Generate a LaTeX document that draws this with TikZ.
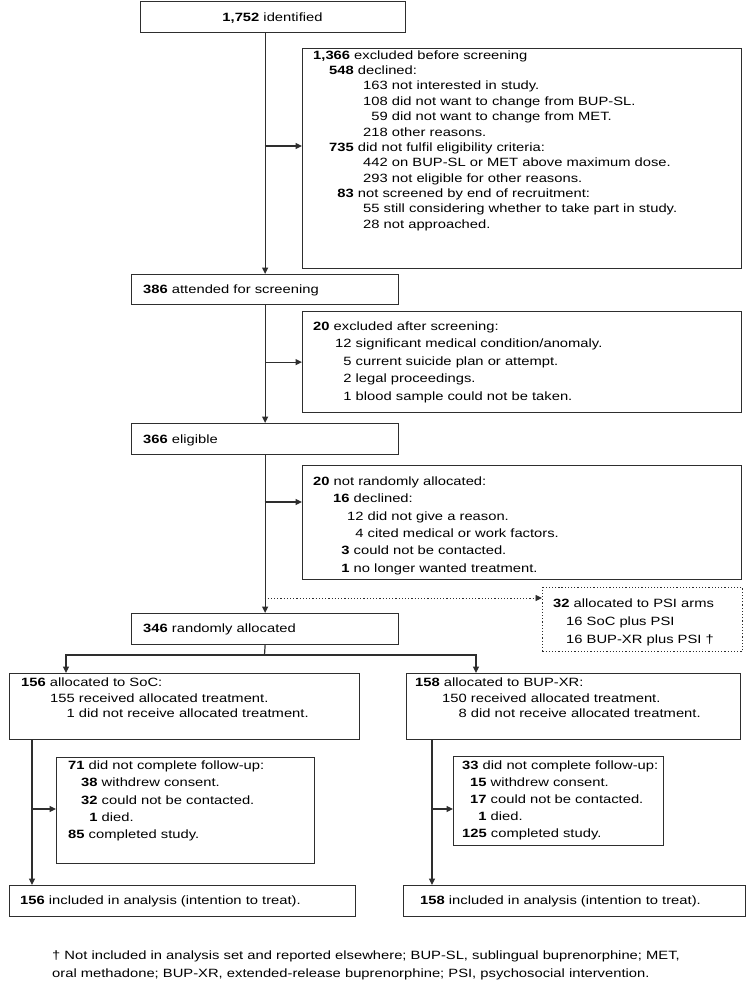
\documentclass[tikz,border=0pt]{standalone}
\usepackage{fontspec}
\setmainfont{Liberation Sans}[FakeStretch=1.23]
\usetikzlibrary{arrows.meta}
\definecolor{lnc}{HTML}{2E2E2E}
\newcommand{\fst}{\rule{0pt}{9bp}}
\begin{document}
\begin{tikzpicture}[x=1bp,y=-1bp,
 bx/.style={draw=lnc, line width=1.2bp, inner sep=0pt, anchor=north west},
 tx/.style={inner sep=0pt, anchor=north west, align=left, text=black},
 arr/.style={draw=lnc, line width=1.2bp, -{Triangle[length=6.5bp,width=6bp]}},
 plain/.style={draw=lnc, line width=1.2bp},
 fsz/.style={font=\fontsize{12bp}{#1}\selectfont}]
\useasboundingbox (0,0) rectangle (748,983);
% boxes
\node[bx, minimum width=265bp, minimum height=31bp] (A) at (140,1) {};
\node[bx, minimum width=439bp, minimum height=220bp] (B) at (302,48) {};
\node[bx, minimum width=267bp, minimum height=30bp] (C) at (131,274) {};
\node[bx, minimum width=439bp, minimum height=101bp] (D) at (302,311) {};
\node[bx, minimum width=267bp, minimum height=31bp] (E) at (131,423) {};
\node[bx, minimum width=439bp, minimum height=114bp] (F) at (302,465) {};
\node[bx, dotted, line width=0.9bp, minimum width=200bp, minimum height=64bp] (P) at (542,587) {};
\node[bx, minimum width=267bp, minimum height=31bp] (G) at (131,613) {};
\node[bx, minimum width=350bp, minimum height=66bp] (H) at (9,673) {};
\node[bx, minimum width=334bp, minimum height=66bp] (I) at (406,673) {};
\node[bx, minimum width=258bp, minimum height=106bp] (J) at (56,757) {};
\node[bx, minimum width=210bp, minimum height=89bp] (K) at (453,756) {};
\node[bx, minimum width=346bp, minimum height=31bp] (L) at (9,885) {};
\node[bx, minimum width=342bp, minimum height=31bp] (M) at (403,885) {};
% texts
\node[tx, fsz=14bp, anchor=base] (At) at (272.5,21) {\textbf{1,752} identified};
\node[tx, fsz=15.36bp] (Bt) at (313,50) {\fst\textbf{1,366} excluded before screening\\
\hspace*{16bp}\textbf{548} declined:\\
\hspace*{50bp}163 not interested in study.\\
\hspace*{50bp}108 did not want to change from BUP-SL.\\
\hspace*{50bp}\phantom{1}59 did not want to change from MET.\\
\hspace*{50bp}218 other reasons.\\
\hspace*{16bp}\textbf{735} did not fulfil eligibility criteria:\\
\hspace*{50bp}442 on BUP-SL or MET above maximum dose.\\
\hspace*{50bp}293 not eligible for other reasons.\\
\hspace*{16bp}\textbf{\phantom{7}83} not screened by end of recruitment:\\
\hspace*{50bp}55 still considering whether to take part in study.\\
\hspace*{50bp}28 not approached.};
\node[tx, fsz=14bp, anchor=base west] (Ct) at (143,293) {\textbf{386} attended for screening};
\node[tx, fsz=17.5bp] (Dt) at (313,321) {\fst\textbf{20} excluded after screening:\\
\hspace*{22bp}12 significant medical condition/anomaly.\\
\hspace*{22bp}\phantom{1}5 current suicide plan or attempt.\\
\hspace*{22bp}\phantom{1}2 legal proceedings.\\
\hspace*{22bp}\phantom{1}1 blood sample could not be taken.};
\node[tx, fsz=14bp, anchor=base west] (Et) at (143,443) {\textbf{366} eligible};
\node[tx, fsz=17.4bp] (Ft) at (313,476) {\fst\textbf{20} not randomly allocated:\\
\hspace*{20bp}\textbf{16} declined:\\
\hspace*{34bp}12 did not give a reason.\\
\hspace*{34bp}\phantom{1}4 cited medical or work factors.\\
\hspace*{20bp}\textbf{\phantom{1}3} could not be contacted.\\
\hspace*{20bp}\textbf{\phantom{1}1} no longer wanted treatment.};
\node[tx, fsz=18bp] (Pt) at (553,598) {\fst\textbf{32} allocated to PSI arms\\
\hspace*{13bp}16 SoC plus PSI\\
\hspace*{13bp}16 BUP-XR plus PSI †};
\node[tx, fsz=14bp, anchor=base west] (Gt) at (143,632.5) {\textbf{346} randomly allocated};
\node[tx, fsz=15.8bp] (Ht) at (21,677) {\fst\textbf{156} allocated to SoC:\\
\hspace*{29bp}155 received allocated treatment.\\
\hspace*{29bp}\phantom{15}1 did not receive allocated treatment.};
\node[tx, fsz=15.8bp] (It) at (415,677) {\fst\textbf{158} allocated to BUP-XR:\\
\hspace*{27bp}150 received allocated treatment.\\
\hspace*{27bp}\phantom{15}8 did not receive allocated treatment.};
\node[tx, fsz=17.4bp] (Jt) at (68,760) {\fst\textbf{71} did not complete follow-up:\\
\hspace*{13bp}\textbf{38} withdrew consent.\\
\hspace*{13bp}\textbf{32} could not be contacted.\\
\hspace*{13bp}\textbf{\phantom{3}1} died.\\
\textbf{85} completed study.};
\node[tx, fsz=17bp] (Kt) at (462,760) {\fst\textbf{33} did not complete follow-up:\\
\hspace*{8bp}\textbf{15} withdrew consent.\\
\hspace*{8bp}\textbf{17} could not be contacted.\\
\hspace*{8bp}\textbf{\phantom{1}1} died.\\
\textbf{125} completed study.};
\node[tx, fsz=14bp, anchor=base west] (Lt) at (20,904.5) {\textbf{156} included in analysis (intention to treat).};
\node[tx, fsz=14bp, anchor=base west] (Mt) at (420,904.5) {\textbf{158} included in analysis (intention to treat).};
\node[tx, fsz=18bp] (Fn) at (52,950) {\fst † Not included in analysis set and reported elsewhere; BUP-SL, sublingual buprenorphine; MET,\\
oral methadone; BUP-XR, extended-release buprenorphine; PSI, psychosocial intervention.};
% connectors
\draw[arr] (A.south -| C.north) -- (C.north);
\coordinate (jB) at (264.5,146);
\draw[arr] (jB) -- (jB -| B.west);
\draw[arr] (C.south) -- (E.north);
\draw[arr] (C.south |- D.west) -- (D.west);
\draw[arr] (E.south) -- (G.north);
\coordinate (jF) at (264.5,502);
\draw[arr] (jF) -- (jF -| F.west);
\coordinate (jP) at (264.5,598);
\draw[arr, dotted, line width=0.9bp] (jP) -- (jP -| P.west);
\coordinate (sp) at (264.5,655);
\coordinate (sl) at (66,655);
\coordinate (sr) at (476,655);
\draw[plain] (G.south) -- (sp);
\draw[arr] (sp) -- (sl) -- (sl |- H.north);
\draw[arr] (sp) -- (sr) -- (sr |- I.north);
\coordinate (cl) at (32,809);
\draw[arr] (cl |- H.south) -- (cl |- L.north);
\draw[arr] (cl) -- (cl -| J.west);
\coordinate (cr) at (432,809);
\draw[arr] (cr |- I.south) -- (cr |- M.north);
\draw[arr] (cr) -- (cr -| K.west);
\end{tikzpicture}
\end{document}
